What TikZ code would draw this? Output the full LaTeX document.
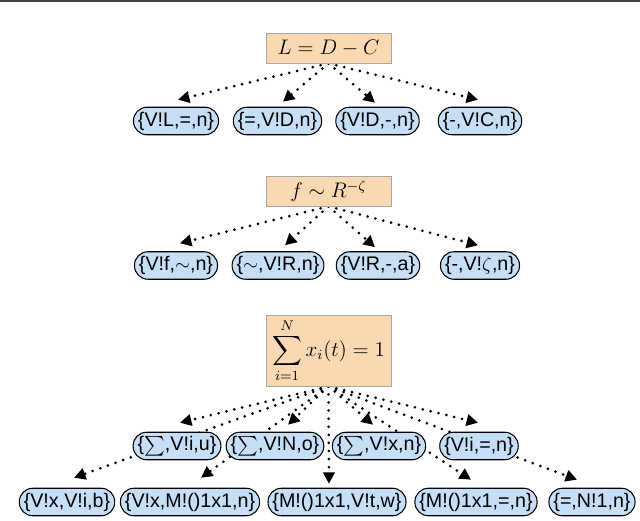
\documentclass[tikz,border=0pt]{standalone}
\usepackage{amsmath,amssymb}
\usepackage{fontspec}
\setsansfont{Liberation Sans}
\usepackage{tikz}
\usetikzlibrary{arrows.meta,positioning,backgrounds}
\definecolor{eqfill}{RGB}{250,216,178}
\definecolor{tokfill}{RGB}{198,222,246}
\newcommand\treesize{\fontsize{11.2}{13}\selectfont}
\tikzset{
	eqn/.style={draw=black!35, fill=eqfill, minimum width=2.5cm, minimum height=0.6cm, inner sep=2pt, font=\fontsize{11.8}{13}\selectfont},
	tok/.style={draw, line width=0.6pt, fill=tokfill, rounded corners=0.27cm, minimum height=0.55cm, inner xsep=0.09cm, inner ysep=0pt, font=\treesize\sffamily},
	dep/.style={line width=1.7pt, line cap=round, dash pattern=on 0pt off 4.6pt, -{Triangle[length=6.5pt,width=6.5pt]}}
}

\begin{document}
\begin{tikzpicture}[x=0.02cm,y=-0.02cm,font=\treesize]
		
		\useasboundingbox (0,0) rectangle (640,521);
		\draw[line width=0.05cm, black!75] (0,1) -- (640,1);
		
		\node[eqn] (A) at (328.5,48) {$L = D - C$};
		\node[tok] (A1) at (176,121) {\{V!L,=,n\}};
		\node[tok] (A2) at (277.5,121) {\{=,V!D,n\}};
		\node[tok] (A3) at (377.5,121) {\{V!D,-,n\}};
		\node[tok] (A4) at (480,121) {\{-,V!C,n\}};
		
		\node[eqn] (B) at (328.5,191) {$f \sim R^{-\zeta}$};
		\node[tok] (B1) at (176,265.5) {\{V!f,$\sim$,n\}};
		\node[tok] (B2) at (278,265.5) {\{$\sim$,V!R,n\}};
		\node[tok] (B3) at (378,265.5) {\{V!R,-,a\}};
		\node[tok] (B4) at (480,265.5) {\{-,V!$\zeta$,n\}};
		
		\node[eqn, minimum height=1.42cm] (C) at (328.5,350.5) {$\displaystyle\sum_{i=1}^{N} x_i(t) = 1$};
		\node[tok] (C1) at (177,446) {\{$\sum$,V!i,u\}};
		\node[tok] (C2) at (275,446) {\{$\sum$,V!N,o\}};
		\node[tok] (C3) at (379,446) {\{$\sum$,V!x,n\}};
		\node[tok] (C4) at (479,446) {\{V!i,=,n\}};
		
		\node[tok] (D1) at (67,502) {\{V!x,V!i,b\}};
		\node[tok] (D2) at (190,502) {\{V!x,M!()1x1,n\}};
		\node[tok] (D3) at (337,502) {\{M!()1x1,V!t,w\}};
		\node[tok] (D4) at (476,502) {\{M!()1x1,=,n\}};
		\node[tok] (D5) at (592,502) {\{=,N!1,n\}};
		
		\begin{scope}[on background layer]
		\draw[dep] (A.south) -- ([xshift=0.04cm,yshift=0.14cm]A1.north);
		\draw[dep] (A.south) -- ([xshift=0.11cm,yshift=0.1cm]A2.north);
		\draw[dep] (A.south) -- ([xshift=-0.05cm,yshift=0.08cm]A3.north);
		\draw[dep] (A.south) -- ([xshift=-0.04cm,yshift=0.14cm]A4.north);
		
		\draw[dep] (B.south) -- ([xshift=0.08cm,yshift=0.16cm]B1.north);
		\draw[dep] (B.south) -- ([xshift=0.14cm,yshift=0.12cm]B2.north);
		\draw[dep] (B.south) -- ([xshift=-0.06cm,yshift=0.08cm]B3.north);
		\draw[dep] (B.south) -- ([xshift=-0.04cm,yshift=0.12cm]B4.north);
		
		\draw[dep] (C.south) -- ([xshift=0.06cm,yshift=0.18cm]C1.north);
		\draw[dep] (C.south) -- ([xshift=0.26cm,yshift=0.14cm]C2.north);
		\draw[dep] (C.south) -- ([xshift=-0.12cm,yshift=0.14cm]C3.north);
		\draw[dep] (C.south) -- ([xshift=-0.02cm,yshift=0.18cm]C4.north);
		\draw[dep] (C.south) -- ([xshift=0.14cm,yshift=0.2cm]D1.north);
		\draw[dep] (C.south) -- ([xshift=0.22cm,yshift=0.2cm]D2.north);
		\draw[dep] (C.south) -- ([xshift=-0.16cm,yshift=0.08cm]D3.north);
		\draw[dep] (C.south) -- ([xshift=-0.1cm,yshift=0.16cm]D4.north);
		\draw[dep] (C.south) -- ([xshift=-0.3cm,yshift=0.16cm]D5.north);
		\end{scope}
		
	\end{tikzpicture}
\end{document}
